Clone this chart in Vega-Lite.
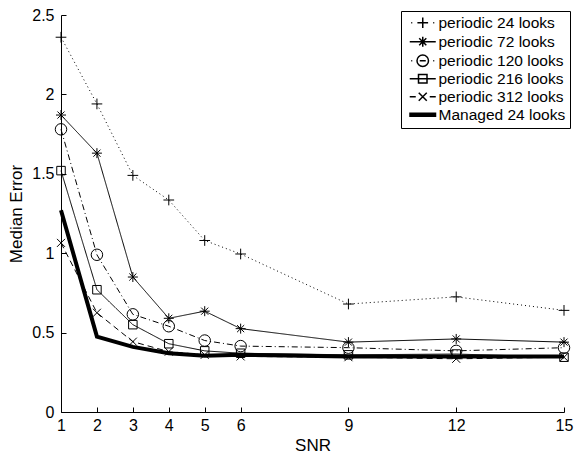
{
  "$schema": "https://vega.github.io/schema/vega-lite/v6.json",
  "width": 503,
  "height": 397,
  "autosize": "none",
  "padding": {"left": 61, "top": 15, "right": 10, "bottom": 42},
  "background": "white",
  "config": {
    "view": {"stroke": null},
    "font": "Liberation Sans",
    "axis": {
      "grid": false,
      "domainColor": "black",
      "tickColor": "black",
      "labelColor": "black",
      "titleColor": "black",
      "labelFont": "Liberation Sans",
      "titleFont": "Liberation Sans",
      "labelFontSize": 16,
      "titleFontSize": 17,
      "titleFontWeight": "normal",
      "tickSize": -5,
      "domainWidth": 1,
      "tickWidth": 1
    },
    "legend": {
      "orient": "none",
      "legendX": 340,
      "legendY": -4,
      "strokeColor": "black",
      "fillColor": "white",
      "padding": 4,
      "symbolOffset": 10,
      "labelFont": "Liberation Sans",
      "labelFontSize": 15.5,
      "labelColor": "black",
      "rowPadding": 1,
      "labelOffset": 8,
      "symbolSize": 100,
      "symbolOpacity": 1
    }
  },
  "resolve": {"scale": {"shape": "independent"}},
  "data": {
    "values": [
      {"snr": 1, "err": 2.36, "series": "periodic 24 looks"},
      {"snr": 2, "err": 1.94, "series": "periodic 24 looks"},
      {"snr": 3, "err": 1.49, "series": "periodic 24 looks"},
      {"snr": 4, "err": 1.335, "series": "periodic 24 looks"},
      {"snr": 5, "err": 1.08, "series": "periodic 24 looks"},
      {"snr": 6, "err": 0.995, "series": "periodic 24 looks"},
      {"snr": 9, "err": 0.68, "series": "periodic 24 looks"},
      {"snr": 12, "err": 0.725, "series": "periodic 24 looks"},
      {"snr": 15, "err": 0.64, "series": "periodic 24 looks"},
      {"snr": 1, "err": 1.87, "series": "periodic 72 looks"},
      {"snr": 2, "err": 1.63, "series": "periodic 72 looks"},
      {"snr": 3, "err": 0.85, "series": "periodic 72 looks"},
      {"snr": 4, "err": 0.59, "series": "periodic 72 looks"},
      {"snr": 5, "err": 0.635, "series": "periodic 72 looks"},
      {"snr": 6, "err": 0.525, "series": "periodic 72 looks"},
      {"snr": 9, "err": 0.44, "series": "periodic 72 looks"},
      {"snr": 12, "err": 0.46, "series": "periodic 72 looks"},
      {"snr": 15, "err": 0.44, "series": "periodic 72 looks"},
      {"snr": 1, "err": 1.78, "series": "periodic 120 looks"},
      {"snr": 2, "err": 0.99, "series": "periodic 120 looks"},
      {"snr": 3, "err": 0.615, "series": "periodic 120 looks"},
      {"snr": 4, "err": 0.54, "series": "periodic 120 looks"},
      {"snr": 5, "err": 0.45, "series": "periodic 120 looks"},
      {"snr": 6, "err": 0.415, "series": "periodic 120 looks"},
      {"snr": 9, "err": 0.405, "series": "periodic 120 looks"},
      {"snr": 12, "err": 0.385, "series": "periodic 120 looks"},
      {"snr": 15, "err": 0.405, "series": "periodic 120 looks"},
      {"snr": 1, "err": 1.52, "series": "periodic 216 looks"},
      {"snr": 2, "err": 0.77, "series": "periodic 216 looks"},
      {"snr": 3, "err": 0.55, "series": "periodic 216 looks"},
      {"snr": 4, "err": 0.43, "series": "periodic 216 looks"},
      {"snr": 5, "err": 0.385, "series": "periodic 216 looks"},
      {"snr": 6, "err": 0.37, "series": "periodic 216 looks"},
      {"snr": 9, "err": 0.36, "series": "periodic 216 looks"},
      {"snr": 12, "err": 0.365, "series": "periodic 216 looks"},
      {"snr": 15, "err": 0.345, "series": "periodic 216 looks"},
      {"snr": 1, "err": 1.065, "series": "periodic 312 looks"},
      {"snr": 2, "err": 0.625, "series": "periodic 312 looks"},
      {"snr": 3, "err": 0.443, "series": "periodic 312 looks"},
      {"snr": 4, "err": 0.38, "series": "periodic 312 looks"},
      {"snr": 5, "err": 0.36, "series": "periodic 312 looks"},
      {"snr": 6, "err": 0.35, "series": "periodic 312 looks"},
      {"snr": 9, "err": 0.345, "series": "periodic 312 looks"},
      {"snr": 12, "err": 0.335, "series": "periodic 312 looks"},
      {"snr": 15, "err": 0.345, "series": "periodic 312 looks"},
      {"snr": 1, "err": 1.27, "series": "Managed 24 looks"},
      {"snr": 2, "err": 0.475, "series": "Managed 24 looks"},
      {"snr": 3, "err": 0.41, "series": "Managed 24 looks"},
      {"snr": 4, "err": 0.37, "series": "Managed 24 looks"},
      {"snr": 5, "err": 0.355, "series": "Managed 24 looks"},
      {"snr": 6, "err": 0.36, "series": "Managed 24 looks"},
      {"snr": 9, "err": 0.35, "series": "Managed 24 looks"},
      {"snr": 12, "err": 0.35, "series": "Managed 24 looks"},
      {"snr": 15, "err": 0.35, "series": "Managed 24 looks"}
    ]
  },
  "encoding": {
    "x": {
      "field": "snr",
      "type": "quantitative",
      "title": "SNR",
      "scale": {"domain": [1, 15], "nice": false, "zero": false},
      "axis": {"values": [1, 2, 3, 4, 5, 6, 9, 12, 15], "labelPadding": 10, "titlePadding": 4, "labelFlush": false}
    },
    "y": {
      "field": "err",
      "type": "quantitative",
      "title": "Median Error",
      "scale": {"domain": [0, 2.5], "nice": false},
      "axis": {"values": [0, 0.5, 1, 1.5, 2, 2.5], "format": "~g", "labelPadding": 12, "titlePadding": 6, "labelFlush": false}
    }
  },
  "layer": [
    {
      "transform": [{"filter": "datum.series !== 'Managed 24 looks'"}],
      "mark": {"type": "line", "color": "black", "strokeWidth": 1},
      "encoding": {
        "strokeDash": {
          "field": "series",
          "type": "nominal",
          "legend": null,
          "scale": {
            "domain": ["periodic 24 looks", "periodic 72 looks", "periodic 120 looks", "periodic 216 looks", "periodic 312 looks"],
            "range": [[1, 3], [1, 0], [6, 3, 1, 3], [1, 0], [6, 4]]
          }
        }
      }
    },
    {
      "transform": [{"filter": "datum.series === 'Managed 24 looks'"}],
      "mark": {"type": "line", "color": "black", "strokeWidth": 4},
      "encoding": {}
    },
    {
      "transform": [{"filter": "datum.series !== 'Managed 24 looks'"}],
      "mark": {"type": "point", "filled": false, "color": "black", "strokeWidth": 1, "size": 100, "opacity": 1},
      "encoding": {
        "shape": {
          "field": "series",
          "type": "nominal",
          "legend": null,
          "scale": {
            "domain": ["periodic 24 looks", "periodic 72 looks", "periodic 120 looks", "periodic 216 looks", "periodic 312 looks"],
            "range": [
              "M-1.07,0H1.07M0,-1.07V1.07",
              "M-1,0H1M0,-1V1M-0.71,-0.71L0.71,0.71M-0.71,0.71L0.71,-0.71",
              "M1.15,0A1.15,1.15 0 1,1 -1.15,0A1.15,1.15 0 1,1 1.15,0",
              "M-0.85,-0.85H0.85V0.85H-0.85Z",
              "M-0.8,-0.8L0.8,0.8M-0.8,0.8L0.8,-0.8"
            ]
          }
        }
      }
    },
    {
      "mark": {"type": "point", "filled": false, "color": "black", "strokeWidth": 1, "size": 100, "opacity": 0},
      "encoding": {
        "shape": {
          "field": "series",
          "type": "nominal",
          "scale": {
            "domain": ["periodic 24 looks", "periodic 72 looks", "periodic 120 looks", "periodic 216 looks", "periodic 312 looks", "Managed 24 looks"],
            "range": [
              "M-2.3,0h0.2M2.1,0h0.2M-1.07,0H1.07M0,-1.07V1.07",
              "M-2.6,0H2.6M0,-1V1M-0.71,-0.71L0.71,0.71M-0.71,0.71L0.71,-0.71",
              "M-2.3,0h0.2M2.1,0h0.2M-0.6,0H0.6M1.15,0A1.15,1.15 0 1,1 -1.15,0A1.15,1.15 0 1,1 1.15,0",
              "M-2.6,0H2.6M-0.85,-0.85H0.85V0.85H-0.85Z",
              "M-2.6,0H-1.4M1.4,0H2.6M-0.8,-0.8L0.8,0.8M-0.8,0.8L0.8,-0.8",
              "M-2.7,-0.3H2.7M-2.7,-0.1H2.7M-2.7,0.1H2.7M-2.7,0.3H2.7"
            ]
          },
          "legend": {
            "title": null,
            "encode": {
              "symbols": {
                "opacity": {"value": 1},
                "stroke": {"value": "black"},
                "fill": {"value": "transparent"}
              }
            }
          }
        }
      }
    }
  ]
}
